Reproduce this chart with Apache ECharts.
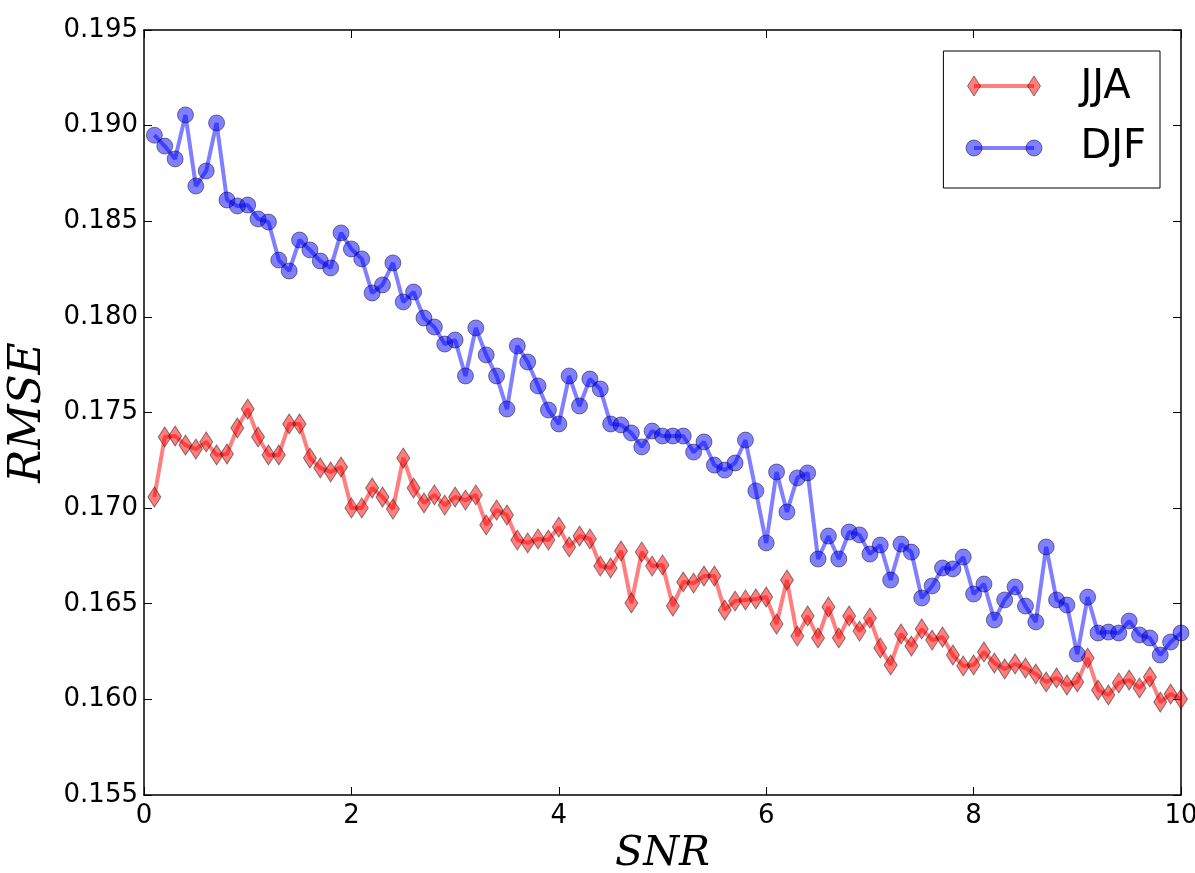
<!DOCTYPE html>
<html>
<head>
<meta charset="utf-8">
<script src="https://cdn.jsdelivr.net/npm/echarts@6/dist/echarts.min.js"></script>
<style>html,body{margin:0;padding:0;background:#fff}#c{width:1195px;height:873px}</style>
</head>
<body>
<div id="c"></div>
<script>
var snr = [];
for (var k = 1; k <= 100; k++) snr.push(+(k / 10).toFixed(1));
var jja = [0.17058,0.17372,0.17377,0.1733,0.17309,0.17346,0.17278,0.17283,0.17419,0.17518,
0.17372,0.17278,0.17278,0.1744,0.1744,0.17262,0.1721,0.17189,0.17215,0.17001,
0.17001,0.17105,0.17058,0.16995,0.17262,0.17105,0.17027,0.17069,0.17016,0.17058,
0.17042,0.17069,0.16912,0.1699,0.16964,0.16833,0.16818,0.16839,0.16833,0.16901,
0.16797,0.16854,0.16839,0.16697,0.16687,0.16776,0.16504,0.16771,0.16697,0.16703,
0.16488,0.16614,0.16608,0.16645,0.16645,0.16467,0.16514,0.1652,0.16525,0.16535,
0.16394,0.16624,0.16331,0.16436,0.16321,0.16483,0.16321,0.16436,0.16357,0.16425,
0.16269,0.1618,0.16342,0.16279,0.16368,0.1631,0.16326,0.16232,0.16175,0.1618,
0.16248,0.1619,0.16159,0.16185,0.16164,0.16133,0.16091,0.16112,0.16075,0.16091,
0.16216,0.16049,0.16023,0.16086,0.16101,0.1606,0.16117,0.15986,0.16028,0.16002];
var djf = [0.1895,0.18893,0.18826,0.19056,0.18684,0.18763,0.19014,0.18611,0.1858,0.18585,
0.18512,0.18496,0.18297,0.1824,0.18402,0.1835,0.18292,0.18256,0.18439,0.18355,
0.18303,0.18125,0.18167,0.18282,0.18078,0.1813,0.17994,0.17947,0.17858,0.17879,
0.17691,0.17942,0.17801,0.17691,0.17518,0.17848,0.17764,0.17639,0.17513,0.1744,
0.17691,0.17534,0.17675,0.17623,0.1744,0.17435,0.17393,0.1732,0.17403,0.17377,
0.17377,0.17377,0.17293,0.17346,0.17225,0.17199,0.17236,0.17356,0.1709,0.16818,
0.17189,0.1698,0.17158,0.17184,0.16734,0.16854,0.16734,0.16875,0.1686,0.1676,
0.16807,0.16624,0.16812,0.1677,0.1653,0.16593,0.16687,0.16682,0.16744,0.16551,
0.16603,0.16415,0.1652,0.16588,0.16488,0.16405,0.16797,0.1652,0.16493,0.16237,
0.16535,0.16347,0.16352,0.16347,0.1641,0.16337,0.16321,0.16232,0.163,0.16347];
var xTicks = [0, 2, 4, 6, 8, 10];
var yTicks = [0.155,0.160,0.165,0.170,0.175,0.180,0.185,0.190,0.195];
var seriesNames = ['JJA', 'DJF'];

function pairs(ys) { return snr.map(function (x, i) { return [x, ys[i]]; }); }

var RED = 'rgba(255,0,0,0.5)', BLUE = 'rgba(0,0,255,0.5)', EDGE = 'rgba(0,0,0,0.45)';

// legend sample glyphs (line with a marker at each end, matplotlib style)
function sample(y, color, kind) {
  var els = [{ type: 'line', shape: { x1: 974, y1: y, x2: 1034, y2: y },
    style: { stroke: color, lineWidth: 4 } }];
  [974, 1034].forEach(function (x) {
    if (kind === 'diamond') {
      els.push({ type: 'polygon', shape: { points: [[x, y - 10], [x + 6.5, y], [x, y + 10], [x - 6.5, y]] },
        style: { fill: color, stroke: EDGE, lineWidth: 1 } });
    } else {
      els.push({ type: 'circle', shape: { cx: x, cy: y, r: 8 },
        style: { fill: color, stroke: EDGE, lineWidth: 1 } });
    }
  });
  return els;
}

var chart = echarts.init(document.getElementById('c'));
var tickStyle = { show: true, inside: true, length: 8, lineStyle: { color: '#000', width: 1 } };
var lineAx = { show: true, onZero: false, lineStyle: { color: '#000', width: 1.5 } };
chart.setOption({
  animation: false,
  backgroundColor: '#fff',
  grid: { left: 144, right: 14, top: 30, bottom: 78, containLabel: false, outerBoundsMode: 'none' },
  legend: {
    right: 35, top: 51, orient: 'vertical',
    padding: [17, 14, 20, 24],
    itemGap: 20, itemWidth: 64, itemHeight: 20,
    borderColor: '#000', borderWidth: 1, borderRadius: 0,
    itemStyle: { opacity: 0 }, lineStyle: { opacity: 0 },
    textStyle: { fontFamily: 'DejaVu Sans', fontSize: 40, lineHeight: 40, color: '#000', padding: [0, 0, 0, 43] },
    data: seriesNames
  },
  graphic: sample(86, RED, 'diamond').concat(sample(148, BLUE, 'circle')).map(function (e) { e.z = 200; return e; }),
  xAxis: [{
    type: 'value', min: 0, max: 10, interval: 2,
    name: 'SNR', nameLocation: 'middle', nameGap: 38,
    nameTextStyle: { fontFamily: 'DejaVu Serif', fontStyle: 'italic', fontSize: 41, color: '#000' },
    axisLine: lineAx, axisTick: tickStyle,
    axisLabel: { fontFamily: 'DejaVu Sans', fontSize: 26, color: '#000', margin: 8,
      formatter: function (v) { return xTicks.indexOf(v) >= 0 ? String(v) : ''; } },
    splitLine: { show: false }
  }, {
    type: 'value', min: 0, max: 10, interval: 2, position: 'top',
    axisLine: lineAx, axisTick: tickStyle, axisLabel: { show: false }, splitLine: { show: false }
  }],
  yAxis: [{
    type: 'value', min: 0.155, max: 0.195, interval: 0.005,
    name: 'RMSE', nameLocation: 'middle', nameGap: 93,
    nameTextStyle: { fontFamily: 'DejaVu Serif', fontStyle: 'italic', fontSize: 44, color: '#000' },
    axisLine: lineAx, axisTick: tickStyle,
    axisLabel: { fontFamily: 'DejaVu Sans', fontSize: 26, color: '#000', margin: 6,
      formatter: function (v) {
        for (var i = 0; i < yTicks.length; i++) if (Math.abs(yTicks[i] - v) < 1e-9) return yTicks[i].toFixed(3);
        return '';
      } },
    splitLine: { show: false }
  }, {
    type: 'value', min: 0.155, max: 0.195, interval: 0.005, position: 'right',
    axisLine: lineAx, axisTick: tickStyle, axisLabel: { show: false }, splitLine: { show: false }
  }],
  series: [{
    name: seriesNames[0], type: 'line', data: pairs(jja),
    symbol: 'diamond', symbolSize: [13, 20], showAllSymbol: true,
    lineStyle: { color: RED, width: 4 },
    itemStyle: { color: RED, borderColor: EDGE, borderWidth: 1 },
    emphasis: { disabled: true }, z: 3
  }, {
    name: seriesNames[1], type: 'line', data: pairs(djf),
    symbol: 'circle', symbolSize: 16, showAllSymbol: true,
    lineStyle: { color: BLUE, width: 4 },
    itemStyle: { color: BLUE, borderColor: EDGE, borderWidth: 1 },
    emphasis: { disabled: true }, z: 4
  }]
});
</script>
</body>
</html>
